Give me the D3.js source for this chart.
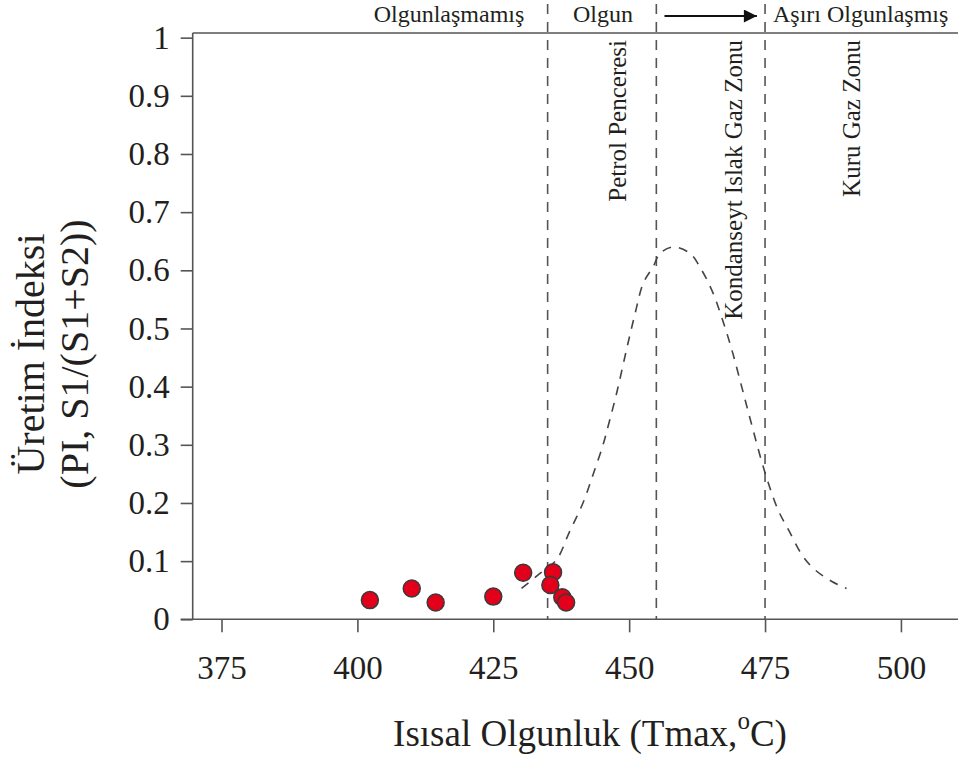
<!DOCTYPE html>
<html>
<head>
<meta charset="utf-8">
<script src="https://cdn.jsdelivr.net/npm/d3@7"></script>
<style>
  html, body { margin: 0; padding: 0; background: #fff; }
  svg { display: block; }
  text { font-family: "Liberation Serif", "Times New Roman", serif; fill: #231f20; }
</style>
</head>
<body>
<svg id="chart" width="961" height="762"></svg>
<script>
// Samples: Tmax (°C) and production index PI = S1/(S1+S2)
const tmax = [402.3, 410.0, 414.4, 425.0, 430.5, 436.0, 435.5, 437.7, 438.4];
const pi   = [0.033, 0.053, 0.029, 0.039, 0.080, 0.081, 0.059, 0.038, 0.029];

// Oil generation envelope (dashed curve)
const curveT  = [430.2, 433.2, 436.6, 439.0, 441.5, 443.4, 445.2, 446.1, 447.7, 449.5, 451.1, 452.6,
                 454.4, 455.7, 458.1, 461.2, 463.3, 465.2, 467.0, 468.9, 470.7, 472.3, 475.0, 477.4,
                 479.3, 482.0, 484.2, 487.3, 490.0];
const curvePI = [0.053, 0.076, 0.102, 0.150, 0.200, 0.250, 0.300, 0.331, 0.389, 0.463, 0.526, 0.578,
                 0.606, 0.629, 0.640, 0.629, 0.601, 0.566, 0.520, 0.463, 0.400, 0.343, 0.252, 0.188,
                 0.154, 0.108, 0.085, 0.065, 0.053];

// Maturity boundaries and labels
const boundaries = [435, 455, 475];
const zoneNames  = ["Petrol Penceresi", "Kondanseyt Islak Gaz Zonu", "Kuru Gaz Zonu"];
const zoneT      = [449.4, 470.8, 492.5];

const xTicks = [375, 400, 425, 450, 475, 500];
const yTicks = [0, 0.1, 0.2, 0.3, 0.4, 0.5, 0.6, 0.7, 0.8, 0.9, 1];

const svg = d3.select("#chart");
const x = d3.scaleLinear().domain([369.7, 510.5]).range([192.7, 958]);
const y = d3.scaleLinear().domain([0, 1.008]).range([619.3, 33]);

const axisColor = "#555";

// Frame: top line
svg.append("line")
  .attr("x1", x.range()[0]).attr("x2", x.range()[1])
  .attr("y1", y(1.008)).attr("y2", y(1.008))
  .attr("stroke", axisColor).attr("stroke-width", 1.6);

// X axis
const gx = svg.append("g")
  .attr("transform", `translate(0,${y(0)})`)
  .call(d3.axisBottom(x).tickValues(xTicks).tickSize(13).tickSizeOuter(0).tickPadding(23));
gx.select(".domain").remove();
gx.selectAll(".tick line").attr("stroke", axisColor).attr("stroke-width", 1.6);
gx.selectAll(".tick text").attr("font-size", 33).attr("font-family", "Liberation Serif").attr("fill", "#231f20");
svg.append("line")
  .attr("x1", x.range()[0] - 12).attr("x2", x.range()[1])
  .attr("y1", y(0)).attr("y2", y(0))
  .attr("stroke", axisColor).attr("stroke-width", 1.6);

// Y axis
const gy = svg.append("g")
  .attr("transform", `translate(${x.range()[0]},0)`)
  .call(d3.axisLeft(y).tickValues(yTicks).tickSize(12).tickSizeOuter(0).tickPadding(11)
        .tickFormat(d => d === 0 ? "0" : d === 1 ? "1" : d3.format(".1f")(d)));
gy.select(".domain").remove();
gy.selectAll(".tick line").attr("stroke", axisColor).attr("stroke-width", 1.6);
gy.selectAll(".tick text").attr("font-size", 33).attr("font-family", "Liberation Serif").attr("fill", "#231f20");
svg.append("line")
  .attr("x1", x.range()[0]).attr("x2", x.range()[0])
  .attr("y1", y(1.008)).attr("y2", y(0))
  .attr("stroke", axisColor).attr("stroke-width", 1.6);

// Boundary lines between maturity zones
svg.selectAll(".boundary").data(boundaries).join("line")
  .attr("class", "boundary")
  .attr("x1", d => x(d)).attr("x2", d => x(d))
  .attr("y1", 4).attr("y2", y(0))
  .attr("stroke", "#555").attr("stroke-width", 1.6)
  .attr("stroke-dasharray", "10,8");

// Generation envelope
const pts = curveT.map((t, i) => [t, curvePI[i]]);
svg.append("path")
  .datum(pts)
  .attr("fill", "none")
  .attr("stroke", "#444").attr("stroke-width", 1.6)
  .attr("stroke-dasharray", "9,8")
  .attr("d", d3.line().x(d => x(d[0])).y(d => y(d[1])).curve(d3.curveCatmullRom.alpha(0.5)));

// Zone names (vertical)
svg.selectAll(".zone").data(zoneNames).join("text")
  .attr("class", "zone")
  .attr("transform", (d, i) => `translate(${x(zoneT[i])},40) rotate(-90)`)
  .attr("text-anchor", "end")
  .attr("font-size", 25)
  .text(d => d);

// Maturity headings
const headY = 22;
svg.append("text").attr("x", 449).attr("y", headY).attr("text-anchor", "middle")
  .attr("font-size", 24).text("Olgunlaşmamış");
svg.append("text").attr("x", 603).attr("y", headY).attr("text-anchor", "middle")
  .attr("font-size", 24).text("Olgun");
svg.append("text").attr("x", 773).attr("y", headY).attr("text-anchor", "start")
  .attr("font-size", 24).text("Aşırı Olgunlaşmış");

// Arrow pointing towards over-maturity
svg.append("defs").append("marker")
  .attr("id", "arrowhead")
  .attr("viewBox", "0 0 10 10").attr("refX", 10).attr("refY", 5)
  .attr("markerWidth", 20).attr("markerHeight", 13).attr("markerUnits", "userSpaceOnUse")
  .attr("orient", "auto")
  .append("path").attr("d", "M0,0 L10,5 L0,10 Z").attr("fill", "#111");
svg.append("line")
  .attr("x1", x(456.5)).attr("x2", x(473.5)).attr("y1", 16).attr("y2", 16)
  .attr("stroke", "#111").attr("stroke-width", 2)
  .attr("marker-end", "url(#arrowhead)");

// Sample points
svg.selectAll(".pt").data(tmax).join("circle")
  .attr("class", "pt")
  .attr("cx", d => x(d))
  .attr("cy", (d, i) => y(pi[i]))
  .attr("r", 8.5)
  .attr("fill", "#e2001a")
  .attr("stroke", "#3a3a3a").attr("stroke-width", 1.5);

// Axis titles
const xt = svg.append("text").attr("x", 590).attr("y", 746).attr("text-anchor", "middle")
  .attr("font-size", 37);
xt.append("tspan").text("Isısal Olgunluk (Tmax,");
xt.append("tspan").attr("font-size", 25).attr("dy", -17).text("o");
xt.append("tspan").attr("dy", 17).text("C)");

const yt = svg.append("text").attr("transform", "translate(44,354) rotate(-90)")
  .attr("text-anchor", "middle").attr("font-size", 40);
yt.append("tspan").attr("x", 0).attr("dy", 0).text("Üretim İndeksi");
yt.append("tspan").attr("x", 0).attr("dy", 44).text("(PI, S1/(S1+S2))");
</script>
</body>
</html>
